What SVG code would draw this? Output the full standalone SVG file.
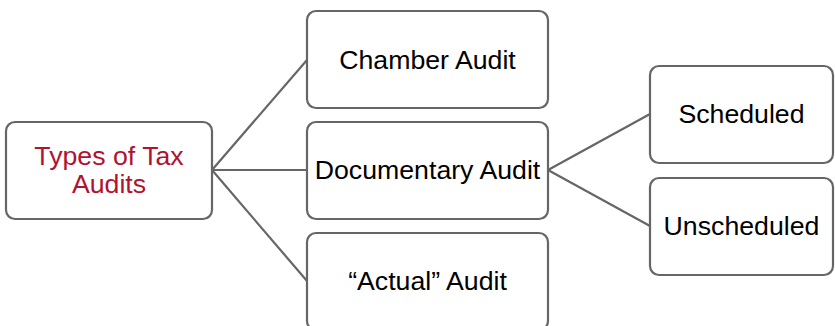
<svg xmlns="http://www.w3.org/2000/svg" width="835" height="326" viewBox="0 0 835 326">
  <style>
    .box { fill: #ffffff; stroke: #666666; stroke-width: 2.2; }
    .lbl { font-family: "Liberation Sans", Arial, sans-serif; font-size: 26.7px; fill: #000000; text-anchor: middle; }
    .root { fill: #b0122f; }
    .link { stroke: #666666; stroke-width: 2.2; fill: none; }
  </style>
  <rect width="835" height="326" fill="#ffffff"/>

  <g id="connectors">
    <line class="link" x1="212" y1="170" x2="307" y2="60"/>
    <line class="link" x1="212" y1="170" x2="307" y2="170"/>
    <line class="link" x1="212" y1="170" x2="307" y2="281"/>
    <line class="link" x1="548" y1="170" x2="650" y2="114"/>
    <line class="link" x1="548" y1="170" x2="650" y2="226"/>
  </g>

  <g id="types-of-tax-audits">
    <rect class="box" x="6" y="122" width="206" height="97" rx="9"/>
    <text class="lbl root" x="109" y="165">Types of Tax</text>
    <text class="lbl root" x="109" y="193">Audits</text>
  </g>

  <g id="chamber-audit">
    <rect class="box" x="307" y="11" width="241" height="97" rx="9"/>
    <text class="lbl" x="427.5" y="68.5">Chamber Audit</text>
  </g>

  <g id="documentary-audit">
    <rect class="box" x="307" y="122" width="241" height="97" rx="9"/>
    <text class="lbl" x="427.5" y="179">Documentary Audit</text>
  </g>

  <g id="actual-audit">
    <rect class="box" x="307" y="233" width="241" height="97" rx="9"/>
    <text class="lbl" x="427.5" y="290">“Actual” Audit</text>
  </g>

  <g id="scheduled">
    <rect class="box" x="650" y="66" width="183" height="97" rx="9"/>
    <text class="lbl" x="741.5" y="123">Scheduled</text>
  </g>

  <g id="unscheduled">
    <rect class="box" x="650" y="178" width="183" height="97" rx="9"/>
    <text class="lbl" x="741.5" y="235">Unscheduled</text>
  </g>
</svg>
